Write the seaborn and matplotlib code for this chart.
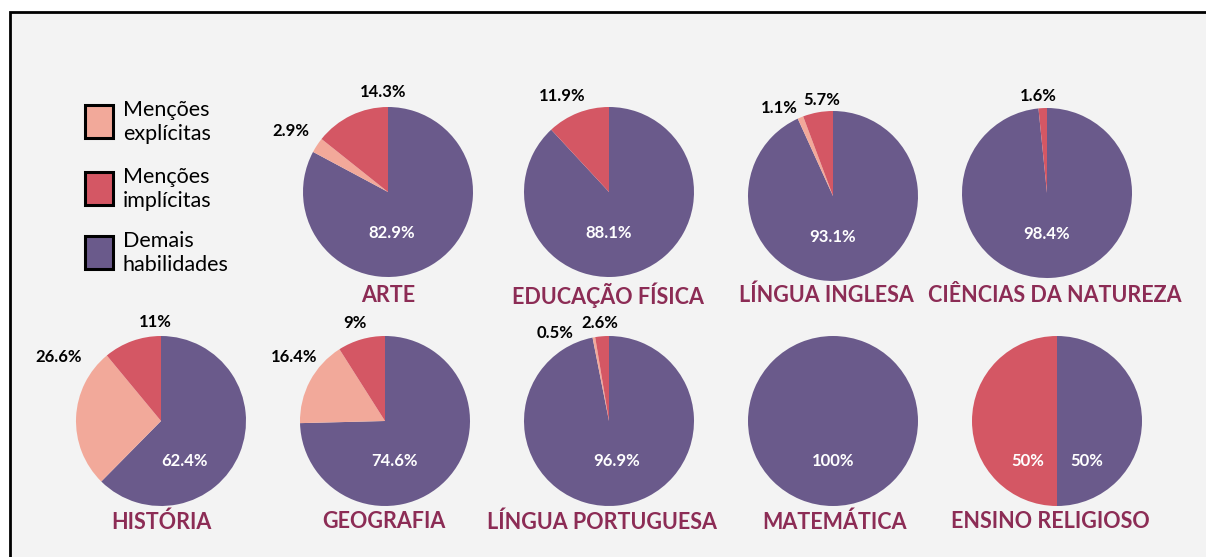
import seaborn as sns
import matplotlib.pyplot as plt
from matplotlib.patches import Rectangle

# data
subjects = ["ARTE", "EDUCAÇÃO FÍSICA", "LÍNGUA INGLESA", "CIÊNCIAS DA NATUREZA",
            "HISTÓRIA", "GEOGRAFIA", "LÍNGUA PORTUGUESA", "MATEMÁTICA", "ENSINO RELIGIOSO"]
demais = [82.9, 88.1, 93.1, 98.4, 62.4, 74.6, 96.9, 100, 50]
explicitas = [2.9, 0, 1.1, 0, 26.6, 16.4, 0.5, 0, 0]
implicitas = [14.3, 11.9, 5.7, 1.6, 11, 9, 2.6, 0, 50]
legend_labels = ["Menções\nexplícitas", "Menções\nimplícitas", "Demais\nhabilidades"]

sns.set_theme(style="white")
plt.rcParams['font.family'] = ['Lato', 'DejaVu Sans']
colors = sns.color_palette(["#6a5a8b", "#f2a99a", "#d45764"])  # demais, explicitas, implicitas
title_color = "#8c2c55"
bg = "#f3f3f3"

W, H = 1206, 557
fig = plt.figure(figsize=(W / 100, H / 100), dpi=100)
fig.patch.set_facecolor("white")
fig.patches.append(Rectangle((10 / W, -0.05), 1.05, (H - 12) / H + 0.05,
                             transform=fig.transFigure, facecolor=bg,
                             edgecolor="black", linewidth=2, zorder=-1))

# layout: pie centres in pixels (x, y from top), radius
R = 85
centres = [(388, 192), (609, 192), (833, 196), (1047, 193),
           (161, 421), (385, 421), (609, 421), (833, 421), (1057, 421)]
title_x = [388, 608, 826, 1055, 161, 384, 602, 834, 1050]
title_y = [295, 295, 295, 295, 522, 522, 522, 522, 522]
# label offsets in pixels from centre: (demais), (explicitas), (implicitas)
offsets = [
    [(4, 41), (-97, -61), (-5, -100)],
    [(0, 41), None, (-47, -96)],
    [(0, 41), (-54, -88), (-11, -96)],
    [(0, 41), None, (-9, -97)],
    [(24, 40), (-102, -64), (-6, -99)],
    [(10, 40), (-91, -64), (-30, -98)],
    [(8, 40), (-54, -88), (-9, -98)],
    [(0, 40), None, None],
    [(30, 40), None, (-29, 40)],
]

for i, name in enumerate(subjects):
    cx, cy = centres[i]
    ax = fig.add_axes([(cx - R) / W, (H - cy - R) / H, 2 * R / W, 2 * R / H])
    vals = [demais[i], explicitas[i], implicitas[i]]
    ax.pie(vals, colors=colors, startangle=90, counterclock=False, radius=1,
           wedgeprops=dict(linewidth=0))
    ax.set_xlim(-1, 1)
    ax.set_ylim(-1, 1)
    ax.axis("off")
    for j, v in enumerate(vals):
        off = offsets[i][j]
        if off is None or v == 0:
            continue
        inside = (j == 0) or (name == "ENSINO RELIGIOSO")
        ax.text(off[0] / R, -off[1] / R, f"{v:g}%", ha="center", va="center",
                fontsize=12, fontweight="bold",
                color="white" if inside else "black", clip_on=False)
    fig.text(title_x[i] / W, 1 - title_y[i] / H, name, ha="center", va="center",
             fontsize=15.5, fontweight="bold", color=title_color)

# legend drawn by hand: square + two-line label
leg_tops = [105, 172, 236]
for k, top in zip((1, 2, 0), leg_tops):
    fig.patches.append(Rectangle((85 / W, 1 - (top + 33) / H), 28 / W, 33 / H,
                                 transform=fig.transFigure, facecolor=colors[k],
                                 edgecolor="black", linewidth=2.2))
for lab, top in zip(legend_labels, leg_tops):
    fig.text(123 / W, 1 - (top + 17) / H, lab, ha="left", va="center",
             fontsize=15.5, linespacing=1.3, color="black")

fig.savefig("out.png", dpi=100, facecolor=fig.get_facecolor())
